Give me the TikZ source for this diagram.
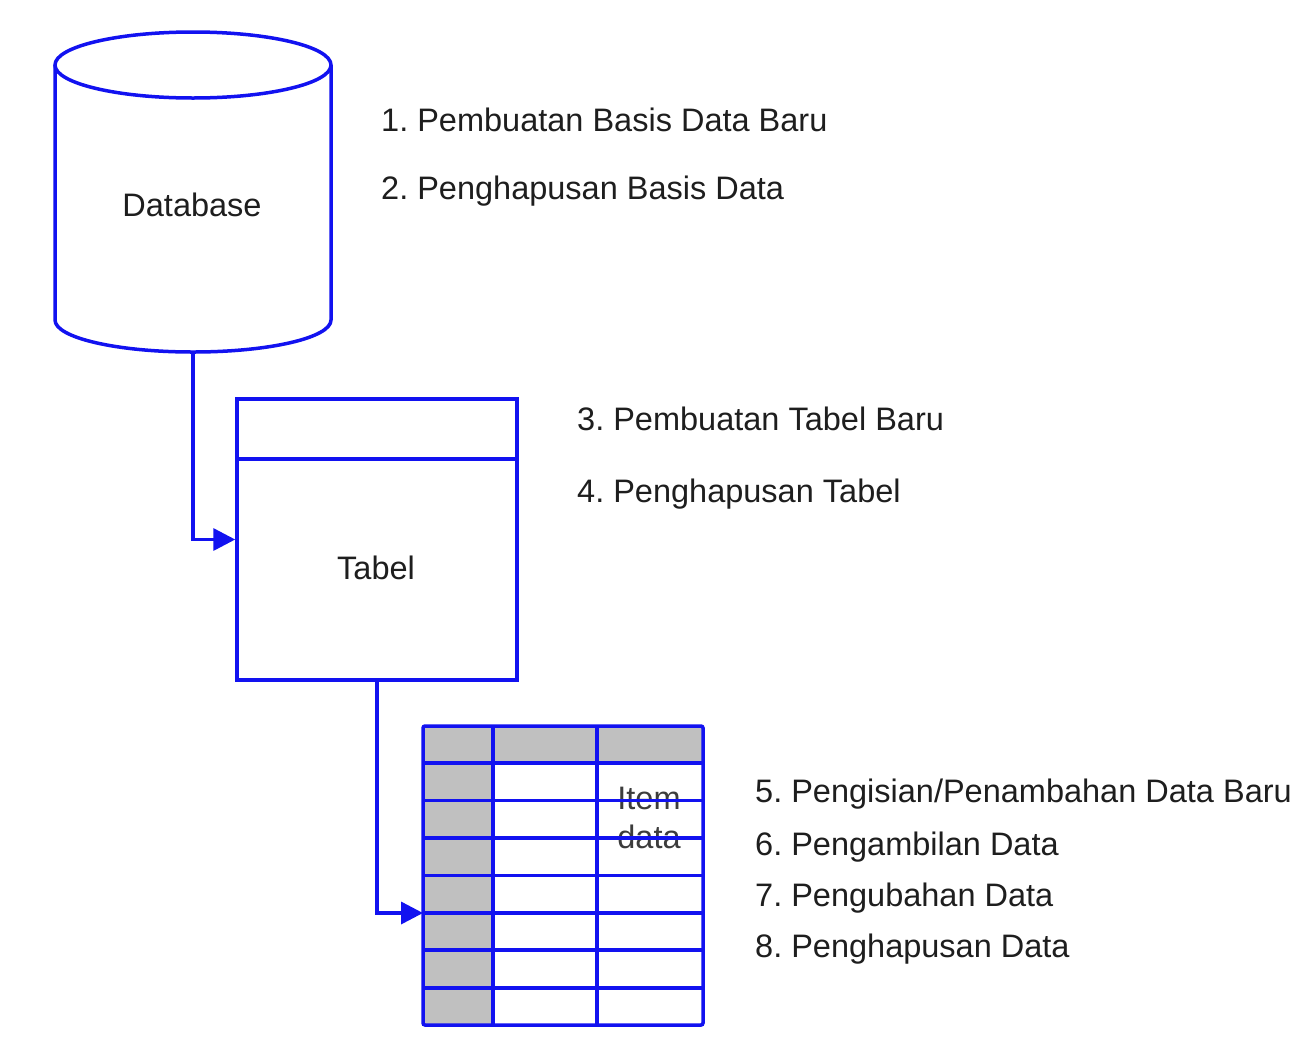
\documentclass[tikz,border=0pt]{standalone}
\usepackage{fontspec}
\setmainfont{Liberation Sans}
\frenchspacing
\usetikzlibrary{arrows.meta}
\definecolor{lineblue}{RGB}{18,18,240}
\definecolor{cellgrey}{RGB}{192,192,192}
\definecolor{txt}{RGB}{30,30,30}
\definecolor{itemtxt}{RGB}{60,60,60}
\tikzset{
  blueline/.style={draw=lineblue, line width=3.5pt},
  conn/.style={blueline, -{Triangle[length=22pt,width=22pt]}},
  lbl/.style={anchor=base west, inner sep=0pt, text=txt, font=\fontsize{32.5pt}{39pt}\selectfont},
  clbl/.style={anchor=base, inner sep=0pt, text=txt, font=\fontsize{32.5pt}{39pt}\selectfont},
  ghost/.style={draw=none, inner sep=0pt, outer sep=0pt}
}
\begin{document}
\begin{tikzpicture}[x=1pt, y=-1pt]
\useasboundingbox[fill=white] (0,0) rectangle (1303,1042);

% ---- Database cylinder ----
\node[ghost, minimum width=276pt, minimum height=320pt] (db) at (193,192) {};
\draw[blueline, fill=white] (55,65) -- (55,320)
  .. controls (55,337.7) and (116.8,352) .. (193,352)
  .. controls (269.2,352) and (331,337.7) .. (331,320) -- (331,65);
\draw[blueline] (193,65) ellipse[x radius=138pt, y radius=33pt];
\node[clbl] (dblabel) at (192,216) {Database};

% ---- Tabel box ----
\node[blueline, minimum width=280pt, minimum height=281pt, inner sep=0pt] (tabel) at (377,539.5) {};
\draw[blueline] (237,459) -- (517,459);
\node[clbl] (tabellabel) at (376,579) {Tabel};

% ---- Data grid ----
\node[ghost, minimum width=280pt, minimum height=299pt] (grid) at (563,875.5) {};
\fill[cellgrey] (423,726) rectangle (703,763);
\fill[cellgrey] (423,763) rectangle (493,1025);
\node[clbl, text=itemtxt] (item1) at (649,809) {Item};
\node[clbl, text=itemtxt] (item2) at (649,848) {data};
\foreach \yy in {763,800.5,838,875.5,913,950,988}
  \draw[blueline] (423,\yy) -- (703,\yy);
\foreach \xx in {493,597}
  \draw[blueline] (\xx,726) -- (\xx,1025);
\draw[blueline, rounded corners=2pt] (423,726) rectangle (703,1025);

% ---- Connectors ----
\coordinate (gin) at (423,913);
\draw[conn] (db.south) |- (tabel.west);
\draw[conn] (tabel.south) |- (gin);

% ---- Operation labels ----
\node[lbl] (t1) at (381,131) {1. Pembuatan Basis Data Baru};
\node[lbl] (t2) at (381,199) {2. Penghapusan Basis Data};
\node[lbl] (t3) at (577,430) {3. Pembuatan Tabel Baru};
\node[lbl] (t4) at (577,502) {4. Penghapusan Tabel};
\node[lbl] (t5) at (755,802) {5. Pengisian/Penambahan Data Baru};
\node[lbl] (t6) at (755,855) {6. Pengambilan Data};
\node[lbl] (t7) at (755,906) {7. Pengubahan Data};
\node[lbl] (t8) at (755,957) {8. Penghapusan Data};
\end{tikzpicture}
\end{document}
